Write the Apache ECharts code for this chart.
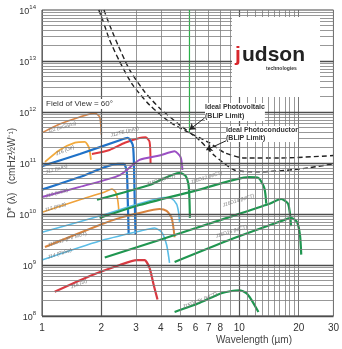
<!DOCTYPE html>
<html>
<head>
<meta charset="utf-8">
<script src="https://cdn.jsdelivr.net/npm/echarts@6/dist/echarts.min.js"></script>
<style>
  html, body { margin: 0; padding: 0; background: #fff; }
  #chart { width: 342px; height: 349px; }
</style>
</head>
<body>
<div id="chart"></div>
<script>
// tick labels
const lambdaTicks = [1, 2, 3, 4, 5, 6, 7, 8, 10, 20, 30];
const dTicks = [1e8, 1e9, 1e10, 1e11, 1e12, 1e13, 1e14];
// grid lines of the scanned sheet
const lambdaGrid = [1, 2, 3, 4, 5, 6, 7, 8, 9, 10, 11, 12, 13, 14, 15, 16, 17, 18, 19, 20, 30];
const decadeSteps = [2, 3, 4, 5, 6, 7, 8, 9];

// detector curves, [wavelength µm, D*]
const j22InGaAs = [[1.0, 3.9e11], [1.23, 5.8e11], [1.555, 8.0e11], [1.85, 9.5e11], [1.96, 8.0e11], [2.0, 3.6e11]];
const j16Ge = [[1.035, 1.05e11], [1.23, 1.8e11], [1.47, 2.5e11], [1.65, 2.6e11], [1.73, 2.0e11], [1.77, 1.15e11]];
const j12InAs = [[1.79, 1.5e11], [2.2, 1.8e11], [2.63, 2.5e11], [3.12, 3.1e11], [3.35, 3.2e11], [3.51, 2.6e11], [3.55, 1.0e11]];
const blueUpper = [[1.0, 8.7e10], [1.555, 1.5e11], [2.48, 2.8e11], [2.72, 3.1e11], [2.88, 2.3e11], [2.92, 1.15e11], [2.95, 1.9e10], [2.98, 3.9e9]];
const blueLower = [[1.0, 3.0e10], [1.555, 5.3e10], [2.42, 9.6e10], [2.6, 9.6e10], [2.69, 6.7e10], [2.72, 1.9e10], [2.75, 3.9e9]];
const j10InSb = [[1.0, 2.15e10], [1.555, 3.4e10], [2.48, 5.8e10], [3.12, 1.15e11], [3.94, 1.4e11], [4.7, 1.7e11], [5.04, 1.3e11], [5.15, 7.3e10]];
const orangeMid = [[1.01, 1.1e10], [1.555, 1.9e10], [2.08, 2.7e10], [2.26, 3.1e10], [2.36, 2.7e10], [2.42, 1.9e10], [2.45, 1.2e10]];
const orangeLow = [[1.035, 2.25e9], [1.96, 6.1e9], [2.48, 8.4e9], [3.12, 1.05e10], [3.94, 1.25e10], [4.28, 1.15e10], [4.54, 8.4e9], [4.7, 3.5e9]];
const cyanUpper = [[1.0, 4.4e9], [1.96, 9.1e9], [3.12, 1.6e10], [4.18, 2.1e10], [4.54, 2.0e10], [4.81, 1.57e10], [4.92, 1.1e10], [4.98, 7.0e9]];
const cyanLower = [[1.0, 1.25e9], [1.96, 2.95e9], [3.12, 4.6e9], [3.72, 5.3e9], [4.04, 4.4e9], [4.28, 2.5e9], [4.43, 1.1e9]];
const j15d5 = [[1.9, 1.9e10], [3.51, 3.7e10], [4.98, 6.4e10], [5.34, 5.6e10], [5.53, 3.7e10], [5.59, 1.9e10], [5.62, 8.4e9]];
const j15d12 = [[1.96, 8.4e9], [3.12, 1.5e10], [6.28, 3.0e10], [11.2, 5.3e10], [12.5, 5.1e10], [13.4, 3.2e10], [13.7, 1.6e10]];
const j15d14 = [[2.08, 1.4e9], [3.94, 3.1e9], [8.9, 8.7e9], [14.1, 1.57e10], [16.3, 1.97e10], [17.7, 1.57e10], [18.3, 5.8e9]];
const j15d16 = [[4.7, 1.15e9], [8.9, 3.1e9], [15.9, 7.0e9], [18.3, 8.4e9], [19.6, 7.0e9], [20.3, 3.9e9], [20.6, 1.6e9]];
const j15d22 = [[4.7, 1.2e8], [6.28, 1.8e8], [8.11, 2.8e8], [10.0, 3.2e8], [10.85, 2.8e8], [11.5, 2.1e8], [12.5, 1.2e8]];
const redLow = [[1.16, 3.0e8], [1.75, 6.1e8], [2.48, 1.0e9], [3.02, 1.25e9], [3.31, 1.25e9], [3.51, 8.7e8], [3.68, 4.1e8], [3.85, 2.1e8]];
const greenMarker = [[5.59, 1e14], [5.59, 4.0e11]];
const blipPV = [[1.94, 1e14], [2.03, 6.4e13], [2.2, 2.6e13], [2.48, 9.6e12], [2.88, 3.4e12], [3.51, 1.37e12], [4.43, 6.4e11], [5.59, 3.9e11], [7.05, 2.5e11], [8.4, 1.6e11], [10.6, 1.25e11], [15.9, 1.25e11], [30, 1.4e11]];
const blipPC = [[2.06, 1e14], [2.2, 5.1e13], [2.42, 2.1e13], [2.78, 6.7e12], [3.31, 2.5e12], [3.94, 1.2e12], [4.98, 5.6e11], [6.28, 2.8e11], [7.48, 1.4e11], [9.43, 7.3e10], [12.6, 6.7e10], [20.1, 7.6e10], [30, 9.6e10]];
const pvArrow = [[6.66, 7.6e11], [5.59, 4.5e11]];
const pcArrow = [[8.7, 2.8e11], [6.8, 1.8e11]];

const chart = echarts.init(document.getElementById('chart'), null, { renderer: 'canvas' });

const FONT = 'Liberation Sans, Arial, sans-serif';

function curve(data, color, width, dashed) {
  return {
    type: 'line', data: data, showSymbol: false, smooth: 0.22, z: 4,
    lineStyle: { color: color, width: width || 2, type: dashed ? [5, 3] : 'solid' }, silent: true
  };
}

const gridLines = [];
lambdaGrid.forEach(v => gridLines.push({ xAxis: v, lineStyle: { type: 'solid', color: (v === 1 || v === 2 || v === 10 || v === 20) ? '#555' : '#7d7d7d', width: (v === 2 || v === 10) ? 1.2 : 0.8 } }));
for (let e = 8; e < 14; e++) {
  gridLines.push({ yAxis: Math.pow(10, e), lineStyle: { type: 'solid', color: '#4d4d4d', width: 1.3 } });
  decadeSteps.forEach(k => gridLines.push({ yAxis: k * Math.pow(10, e), lineStyle: { type: 'solid', color: '#7d7d7d', width: 0.8 } }));
}

const labels = [
  ['J22 (InGaAs)', 47, 129, 0.28],
  ['J16 (Ge)', 55, 152, 0.4],
  ['J12TE (InAs)', 110, 133, 0.25],
  ['J12 (InAs)', 45, 170, 0.28],
  ['J10 (InSb)', 45, 194, 0.28],
  ['J13 (PbS)', 44, 208, 0.28],
  ['J15D12 (PV MCT)', 47, 243, 0.3],
  ['J14 (PbSe)', 47, 255, 0.3],
  ['J18 (Si)', 70, 285, 0.4],
  ['J15D5 (MCT)', 146, 182, 0.3],
  ['J15D12 (MCT)', 190, 180, 0.3],
  ['J15D14 (MCT)', 222, 203, 0.3],
  ['J15D16 (MCT)', 215, 234, 0.3],
  ['J15D4.5s (MCT)', 182, 305, 0.38]
];

chart.setOption({
  animation: false,
  backgroundColor: '#fff',
  grid: { left: 42, right: 7, top: 10, bottom: 33, show: true, borderColor: '#444', borderWidth: 1 },
  xAxis: {
    type: 'log', logBase: 10, min: 1, max: 30,
    axisLine: { show: false }, axisTick: { show: false }, splitLine: { show: false },
    axisLabel: { customValues: lambdaTicks, color: '#333', fontSize: 10, fontFamily: FONT, margin: 7, formatter: v => String(Math.round(v)) }
  },
  yAxis: {
    type: 'log', logBase: 10, min: 1e8, max: 1e14,
    axisLine: { show: false }, axisTick: { show: false }, splitLine: { show: false },
    axisLabel: {
      customValues: dTicks, margin: 6,
      formatter: v => '{b|10}{e|' + Math.round(Math.log10(v)) + '}',
      rich: {
        b: { fontSize: 9, color: '#333', fontFamily: FONT, verticalAlign: 'bottom', lineHeight: 12 },
        e: { fontSize: 6, color: '#333', fontFamily: FONT, verticalAlign: 'top', lineHeight: 12 }
      }
    }
  },
  series: [
    {
      type: 'line', data: [], z: 1, silent: true,
      markLine: { silent: true, symbol: 'none', label: { show: false }, data: gridLines, animation: false }
    },
    curve(greenMarker, '#2bb24a', 1.2),
    curve(blipPV, '#222', 1.4, true),
    curve(blipPC, '#222', 1.4, true),
    curve(j22InGaAs, '#d9884a', 1.6),
    curve(j16Ge, '#f2aa3c', 1.8),
    curve(j12InAs, '#e0393e', 2),
    curve(blueUpper, '#1f72c8', 2.2),
    curve(blueLower, '#1f72c8', 2.2),
    curve(j10InSb, '#9b4fc4', 2),
    curve(orangeMid, '#f0a23a', 1.6),
    curve(orangeLow, '#d8843e', 2),
    curve(cyanUpper, '#5bbde6', 1.6),
    curve(cyanLower, '#5bbde6', 1.6),
    curve(j15d5, '#1f9650', 2.2),
    curve(j15d12, '#1f9650', 2.2),
    curve(j15d14, '#1f9650', 2.2),
    curve(j15d16, '#1f9650', 2.2),
    curve(j15d22, '#1f9650', 2.2),
    curve(redLow, '#d83a42', 2.2),
    {
      type: 'line', data: [], z: 5, silent: true,
      markLine: {
        silent: true, symbol: ['none', 'arrow'], symbolSize: 6, label: { show: false },
        lineStyle: { color: '#222', width: 1, type: 'solid' },
        data: [
          [{ coord: pvArrow[0] }, { coord: pvArrow[1] }],
          [{ coord: pcArrow[0] }, { coord: pcArrow[1] }]
        ]
      }
    }
  ],
  graphic: [
    { type: 'text', x: 12, y: 173, rotation: Math.PI / 2, z: 10, style: { text: 'D* (λ)   (cmHz½W⁻¹)', fill: '#444', font: '10px ' + FONT, textAlign: 'center', textVerticalAlign: 'middle' } },
    { type: 'text', left: 44, top: 99, z: 10, style: { text: 'Field of View = 60°', fill: '#333', font: '8px ' + FONT, backgroundColor: '#fff', padding: [1, 2] } },
    { type: 'text', left: 205, top: 103, z: 10, style: { text: 'Ideal Photovoltaic\n(BLIP Limit)', fill: '#333', font: 'bold 7px ' + FONT, lineHeight: 9, backgroundColor: '#fff' } },
    { type: 'text', left: 226, top: 126, z: 10, style: { text: 'Ideal Photoconductor\n(BLIP Limit)', fill: '#333', font: 'bold 7px ' + FONT, lineHeight: 8, backgroundColor: '#fff' } },
    { type: 'rect', left: 232, top: 17, z: 9, shape: { width: 88, height: 80 }, style: { fill: '#fff' } },
    { type: 'text', left: 235, top: 45, z: 10, style: { text: 'j', fill: '#d8262c', font: 'bold 21px ' + FONT } },
    { type: 'text', left: 242, top: 45, z: 10, style: { text: 'udson', fill: '#222', font: 'bold 21px ' + FONT } },
    { type: 'text', left: 266, top: 66, z: 10, style: { text: 'technologies', fill: '#333', font: 'bold 5px ' + FONT, letterSpacing: 1 } },
    { type: 'text', left: 216, top: 335, z: 10, style: { text: 'Wavelength (µm)', fill: '#444', font: '10px ' + FONT, textAlign: 'center' } }
  ].concat(labels.map(l => ({
    type: 'text', x: l[1], y: l[2], rotation: l[3], z: 8,
    style: { text: l[0], fill: '#777', font: 'italic 5px ' + FONT }
  })))
});
</script>
</body>
</html>
